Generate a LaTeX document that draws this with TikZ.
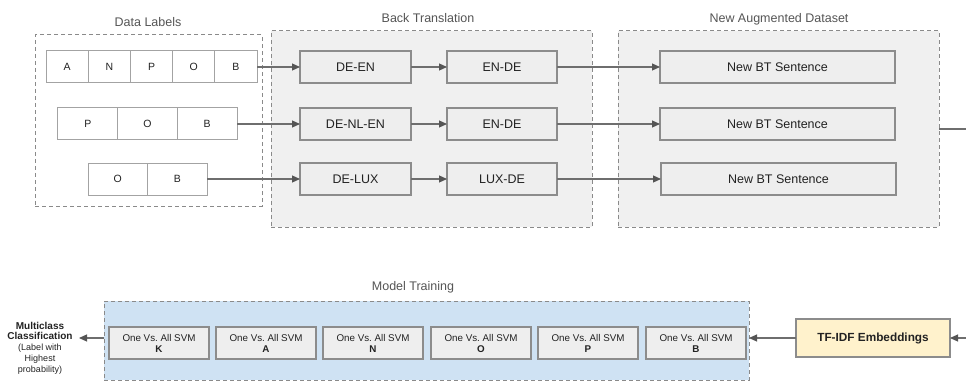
\documentclass[tikz,border=0pt]{standalone}
\usepackage{fontspec}
\setmainfont{Liberation Sans}
\usetikzlibrary{arrows.meta,positioning}
\frenchspacing
\definecolor{bord}{HTML}{8C8C8C}
\definecolor{dash}{HTML}{8A8A8A}
\definecolor{boxfill}{HTML}{EEEEEE}
\definecolor{contfill}{HTML}{F0F0F0}
\definecolor{bluefill}{HTML}{CFE2F3}
\definecolor{yelfill}{HTML}{FFF2CC}
\definecolor{lineg}{HTML}{6E6E6E}
\definecolor{tipg}{HTML}{555555}
\definecolor{titleg}{HTML}{555555}
\definecolor{txt}{HTML}{222222}
\tikzset{
  every node/.style={inner sep=0pt, outer sep=0pt},
  cont/.style={draw=dash, line width=1pt, dash pattern=on 4pt off 3pt, rectangle},
  bbox/.style={draw=bord, fill=boxfill, line width=1.1pt, rectangle, text=txt,
    font=\fontsize{12.5}{15}\selectfont},
  cell/.style={draw=bord!80, fill=white, line width=1pt, rectangle, text=txt,
    minimum height=32pt, font=\fontsize{10.5}{12}\selectfont},
  svm/.style={draw=bord, fill=boxfill, line width=1.1pt, rectangle, text=txt,
    minimum width=100pt, minimum height=32pt, align=center,
    font=\fontsize{9.8}{11}\selectfont},
  ttl/.style={text=titleg, font=\fontsize{12.5}{15}\selectfont},
  arr/.style={draw=lineg, line width=1.1pt,
    -{Triangle[length=8pt,width=7pt,fill=tipg,color=tipg]}},
  ln/.style={draw=lineg, line width=1.1pt}
}
\begin{document}
\begin{tikzpicture}[x=1pt,y=-1pt]
\useasboundingbox (0,0) rectangle (966,385);
% containers
\node[cont, fill=white, minimum width=227pt, minimum height=171pt] (dl) at (148.5,120.5) {};
\node[cont, fill=contfill, minimum width=321pt, minimum height=196pt] (bt) at (431.5,129) {};
\node[cont, fill=contfill, minimum width=321pt, minimum height=196pt] (ds) at (778.5,129) {};
\node[cont, fill=bluefill, minimum width=645pt, minimum height=79pt] (mt) at (426.5,340.5) {};
% titles
\node[ttl] (tdl) at (148,22) {Data Labels};
\node[ttl] (tbt) at (428,18) {Back Translation};
\node[ttl] (tds) at (779,19) {New Augmented Dataset};
\node[ttl] (tmt) at (413,287) {Model Training};
% data label cells
\node[cell, minimum width=42.2pt] (l1a) at (67.1,67) {A};
\node[cell, minimum width=42.2pt] (l1b) at (109.3,67) {N};
\node[cell, minimum width=42.2pt] (l1c) at (151.5,67) {P};
\node[cell, minimum width=42.2pt] (l1d) at (193.7,67) {O};
\node[cell, minimum width=42.2pt] (l1e) at (235.9,67) {B};
\node[cell, minimum width=59.7pt] (l2a) at (87.8,124) {P};
\node[cell, minimum width=59.7pt] (l2b) at (147.5,124) {O};
\node[cell, minimum width=59.7pt] (l2c) at (207.2,124) {B};
\node[cell, minimum width=59.5pt] (l3a) at (117.75,179) {O};
\node[cell, minimum width=59.5pt] (l3b) at (177.25,179) {B};
% back translation
\node[bbox, minimum width=111pt, minimum height=32pt] (b1a) at (355.5,67) {DE-EN};
\node[bbox, minimum width=110pt, minimum height=32pt] (b1b) at (502,67) {EN-DE};
\node[bbox, minimum width=111pt, minimum height=32pt] (b2a) at (355.5,124) {DE-NL-EN};
\node[bbox, minimum width=110pt, minimum height=32pt] (b2b) at (502,124) {EN-DE};
\node[bbox, minimum width=111pt, minimum height=32pt] (b3a) at (355.5,179) {DE-LUX};
\node[bbox, minimum width=110pt, minimum height=32pt] (b3b) at (502,179) {LUX-DE};
% new sentences
\node[bbox, minimum width=235pt, minimum height=32pt] (s1) at (777.5,67) {New BT Sentence};
\node[bbox, minimum width=235pt, minimum height=32pt] (s2) at (777.5,124) {New BT Sentence};
\node[bbox, minimum width=235pt, minimum height=32pt] (s3) at (778.5,179) {New BT Sentence};
% arrows top
\draw[arr] (l1e.east) -- (b1a.west);
\draw[arr] (l2c.east) -- (b2a.west);
\draw[arr] (l3b.east) -- (b3a.west);
\draw[arr] (b1a.east) -- (b1b.west);
\draw[arr] (b2a.east) -- (b2b.west);
\draw[arr] (b3a.east) -- (b3b.west);
\draw[arr] (b1b.east) -- (s1.west);
\draw[arr] (b2b.east) -- (s2.west);
\draw[arr] (b3b.east) -- (s3.west);
\coordinate (r1) at (966,129);
\draw[ln] (ds.east) -- (r1);
% SVMs
\node[svm] (k) at (159,343) {One Vs. All SVM\\\textbf{K}};
\node[svm] (a) at (266,343) {One Vs. All SVM\\\textbf{A}};
\node[svm] (n) at (373,343) {One Vs. All SVM\\\textbf{N}};
\node[svm] (o) at (481,343) {One Vs. All SVM\\\textbf{O}};
\node[svm] (p) at (588,343) {One Vs. All SVM\\\textbf{P}};
\node[svm] (b) at (696,343) {One Vs. All SVM\\\textbf{B}};
% TF-IDF
\node[draw=bord, fill=yelfill, line width=1.1pt, minimum width=154pt, minimum height=38pt,
  text=txt, font=\bfseries\fontsize{11.8}{14}\selectfont] (tf) at (873,338) {TF-IDF Embeddings};
\coordinate (r2) at (966,338);
\draw[arr] (r2) -- (tf.east);
\draw[arr] (tf.west) -- (tf.west -| mt.east);
% multiclass
\node[text=txt, align=center, font=\fontsize{9}{10.8}\selectfont] (mc) at (40,348)
  {{\bfseries\fontsize{10}{12.5}\selectfont Multiclass}\\[-0.5pt]
   {\bfseries\fontsize{10}{12.5}\selectfont Classification}\\
   (Label with\\ Highest\\ probability)};
\coordinate (mcin) at (79,338);
\draw[arr] (mt.west |- mcin) -- (mcin);
\end{tikzpicture}
\end{document}
